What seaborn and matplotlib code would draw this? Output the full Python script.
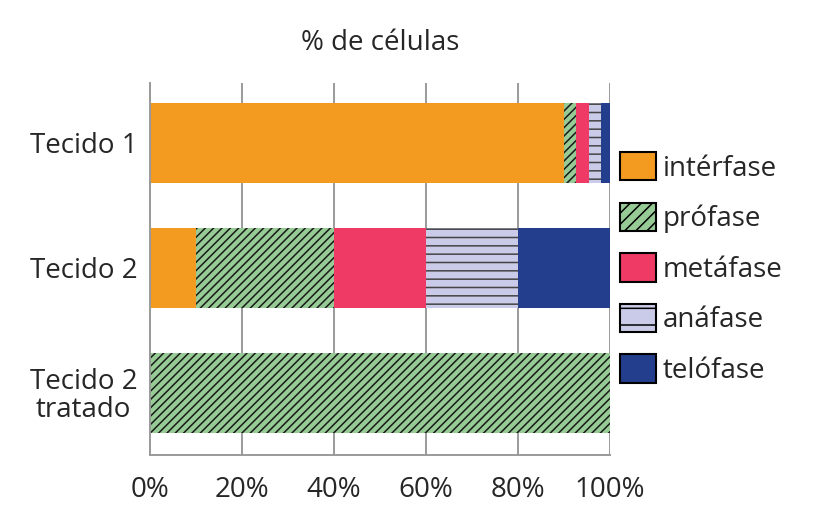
import matplotlib
matplotlib.use('Agg')
import matplotlib.pyplot as plt
from matplotlib.patches import Patch
import numpy as np
import pandas as pd
import seaborn as sns

# dados (% de células em cada fase)
tecidos = ['Tecido 1', 'Tecido 2', 'Tecido 2\ntratado']
fases = ['intérfase', 'prófase', 'metáfase', 'anáfase', 'telófase']
interfase = [90, 10, 0]
profase = [2.5, 30, 100]
metafase = [3, 20, 0]
anafase = [2.5, 20, 0]
telofase = [2, 20, 0]
ticks_x = [0, 20, 40, 60, 80, 100]

cores = ['#F39A20', '#96CB96', '#EE3A65', '#CACBE8', '#233E8C']
hachuras = ['', '////', '', '--', '']
hachuras_legenda = ['', '///', '', '-', '']
cores_hachura = ['#F39A20', '#1a1a1a', '#EE3A65', '#444444', '#233E8C']

sns.set_style('white')
plt.rcParams['font.family'] = ['Open Sans', 'DejaVu Sans']
plt.rcParams['hatch.linewidth'] = 1.1

df = pd.DataFrame({'tecido': tecidos, 'intérfase': interfase, 'prófase': profase,
                   'metáfase': metafase, 'anáfase': anafase, 'telófase': telofase})
acum = df[fases].cumsum(axis=1)
acum['tecido'] = df['tecido']

fig = plt.figure(figsize=(8.16, 5.27), dpi=100)
ax = fig.add_axes([150 / 816, 1 - 455 / 527, 460 / 816, 372 / 527])

# barras empilhadas: desenha do acumulado maior para o menor
for i in reversed(range(len(fases))):
    sns.barplot(data=acum, x=fases[i], y='tecido', orient='h', ax=ax,
                color=cores[i], width=0.64, hatch=hachuras[i],
                edgecolor=cores_hachura[i], linewidth=0, saturation=1,
                zorder=2)

ax.set_xlim(0, 100)
ax.set_ylim(2.5, -0.48)
ax.set_xticks(ticks_x)
ax.set_xticklabels([f'{t}%' for t in ticks_x], fontsize=20)
ax.set_yticks(range(len(tecidos)))
ax.set_yticklabels(tecidos, fontsize=20, multialignment='center', linespacing=1.0)
ax.tick_params(axis='x', length=0, pad=15)
ax.tick_params(axis='y', length=0, pad=9)
ax.set_xlabel('')
ax.set_ylabel('')
ax.grid(axis='x', color='#9a9a9a', linewidth=1.4, zorder=0)
ax.set_axisbelow(True)
for s in ['top', 'right']:
    ax.spines[s].set_visible(False)
for s in ['left', 'bottom']:
    ax.spines[s].set_color('#9a9a9a')
    ax.spines[s].set_linewidth(1.4)
ax.set_title('% de células', fontsize=20, pad=24)

handles = [Patch(facecolor=cores[i], hatch=hachuras_legenda[i], edgecolor='black',
                 linewidth=1.5) for i in range(len(fases))]
fig.legend(handles, fases, loc='upper left', bbox_to_anchor=(620 / 816, 1 - 152 / 527),
           frameon=False, fontsize=20, handlelength=1.3, handleheight=1.2,
           handletextpad=0.25, labelspacing=0.72, borderpad=0, borderaxespad=0)

fig.savefig('out.png', dpi=100)
